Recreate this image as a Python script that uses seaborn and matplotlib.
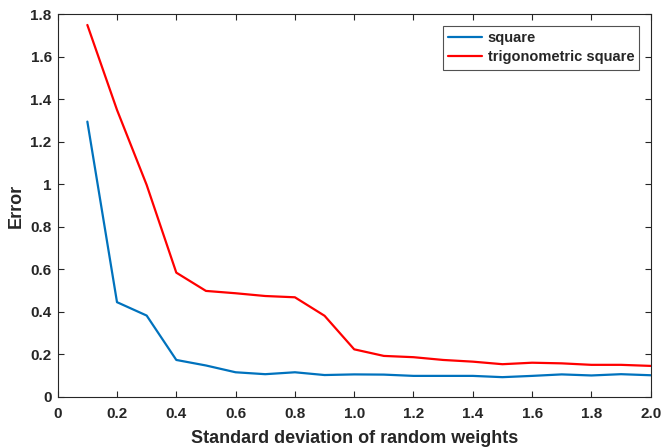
import pandas as pd
import matplotlib.pyplot as plt
import seaborn as sns

# -----------------------------
# DATA
# -----------------------------

sigma = [0.1, 0.2, 0.3, 0.4, 0.5, 0.6, 0.7, 0.8, 0.9, 1.0,
         1.1, 1.2, 1.3, 1.4, 1.5, 1.6, 1.7, 1.8, 1.9, 2.0]

err_square = [1.295, 0.445, 0.382, 0.173, 0.147, 0.115, 0.106, 0.115, 0.102, 0.105,
              0.104, 0.098, 0.098, 0.098, 0.092, 0.098, 0.105, 0.100, 0.106, 0.101]

err_trig = [1.750, 1.350, 0.997, 0.584, 0.498, 0.487, 0.474, 0.468, 0.381, 0.223,
            0.192, 0.186, 0.173, 0.165, 0.153, 0.160, 0.157, 0.150, 0.150, 0.145]

series_names = ["square", "trigonometric square"]
colors = ["#0072BD", "#FF0000"]

xticks = [0, 0.2, 0.4, 0.6, 0.8, 1.0, 1.2, 1.4, 1.6, 1.8, 2.0]
xtick_labels = ["0", "0.2", "0.4", "0.6", "0.8", "1.0", "1.2", "1.4", "1.6", "1.8", "2.0"]
yticks = [0, 0.2, 0.4, 0.6, 0.8, 1.0, 1.2, 1.4, 1.6, 1.8]
ytick_labels = ["0", "0.2", "0.4", "0.6", "0.8", "1", "1.2", "1.4", "1.6", "1.8"]

df = pd.DataFrame({
    "sigma": sigma * 2,
    "error": err_square + err_trig,
    "method": [series_names[0]] * len(sigma) + [series_names[1]] * len(sigma),
})

# -----------------------------
# STYLE
# -----------------------------

sns.set_style("white")
plt.rcParams["font.family"] = ["Liberation Sans", "DejaVu Sans"]
plt.rcParams["font.weight"] = "bold"

fig = plt.figure(figsize=(6.61, 4.48), dpi=100)
ax = fig.add_axes([0.0873, 0.1145, 0.8971, 0.8535])

sns.lineplot(data=df, x="sigma", y="error", hue="method",
             palette=colors, linewidth=1.6, ax=ax)

ax.set_xlim(0, 2.0)
ax.set_ylim(0, 1.8)
ax.set_xticks(xticks)
ax.set_xticklabels(xtick_labels, fontsize=11, fontweight="bold", color="#262626")
ax.set_yticks(yticks)
ax.set_yticklabels(ytick_labels, fontsize=11, fontweight="bold", color="#262626")

ax.tick_params(direction="in", length=4, width=0.8, color="#262626",
               top=True, right=True, bottom=True, left=True)
ax.tick_params(axis="x", pad=7.6)
ax.tick_params(axis="y", pad=4.3)

for s in ax.spines.values():
    s.set_color("#262626")
    s.set_linewidth(0.8)

ax.set_xlabel("Standard deviation of random weights", fontsize=13,
              fontweight="bold", color="#262626", labelpad=6.5)
ax.set_ylabel("Error", fontsize=13, fontweight="bold", color="#262626", labelpad=4.2)

leg = ax.legend(loc="upper right", bbox_to_anchor=(0.981, 0.969),
                prop={"size": 10.5, "weight": "bold"},
                frameon=True, fancybox=False, edgecolor="#262626",
                handlelength=2.3, borderpad=0.35, labelspacing=0.35,
                handletextpad=0.4, borderaxespad=0)
leg.get_frame().set_linewidth(0.8)

fig.savefig("out.png", dpi=100)
